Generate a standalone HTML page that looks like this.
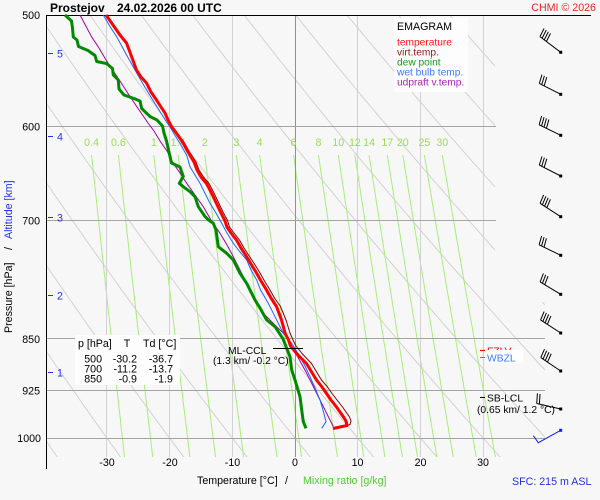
<!DOCTYPE html>
<html><head><meta charset="utf-8">
<style>
html,body{margin:0;padding:0;background:#f7f7f7;overflow:hidden;}
svg{display:block;font-family:"Liberation Sans",Arial,sans-serif;}
</style></head><body>
<svg width="600" height="500" viewBox="0 0 600 500" xmlns="http://www.w3.org/2000/svg">
<rect width="600" height="500" fill="#f7f7f7"/>
<defs><clipPath id="c"><polygon points="46,15 495,15 495,302 545,302 545,457 46,457"/></clipPath></defs>
<g id="grid" clip-path="url(#c)" fill="none"></g>

<!-- isotherms -->
<g stroke="#d2d2d2" stroke-width="1" shape-rendering="crispEdges">
<line x1="106.5" y1="15" x2="106.5" y2="457"/>
<line x1="169.5" y1="15" x2="169.5" y2="457"/>
<line x1="232.5" y1="15" x2="232.5" y2="457"/>
<line x1="357.5" y1="15" x2="357.5" y2="457"/>
<line x1="420.5" y1="15" x2="420.5" y2="457"/>
<line x1="483.5" y1="15" x2="483.5" y2="457"/>
</g>
<line x1="295.5" y1="15" x2="295.5" y2="457" stroke="#909090" stroke-width="1" shape-rendering="crispEdges"/>
<!-- isobars -->
<g stroke="#a4a4a4" stroke-width="1" shape-rendering="crispEdges">
<line x1="46" y1="126.5" x2="496" y2="126.5"/>
<line x1="46" y1="220.5" x2="496" y2="220.5"/>
<line x1="46" y1="338.5" x2="545" y2="338.5"/>
<line x1="46" y1="390.5" x2="545" y2="390.5"/>
<line x1="46" y1="438.5" x2="545" y2="438.5"/>
</g>
<!-- axes -->
<line x1="46" y1="15.5" x2="591" y2="15.5" stroke="#000" stroke-width="1.2" shape-rendering="crispEdges"/>
<line x1="46.5" y1="15" x2="46.5" y2="469" stroke="#000" stroke-width="1" shape-rendering="crispEdges"/>

<!-- mixing ratio labels -->
<g font-size="10.67" fill="#99dd55" text-anchor="middle">
<text x="91.6" y="146">0.4</text>
<text x="118.4" y="146">0.6</text>
<text x="153.8" y="146">1</text>
<text x="178.1" y="146">1.4</text>
<text x="204.8" y="146">2</text>
<text x="236.4" y="146">3</text>
<text x="259.6" y="146">4</text>
<text x="293.5" y="146">6</text>
<text x="318.5" y="146">8</text>
<text x="338.3" y="146">10</text>
<text x="354.9" y="146">12</text>
<text x="369.1" y="146">14</text>
<text x="387.3" y="146">17</text>
<text x="402.8" y="146">20</text>
<text x="424.4" y="146">25</text>
<text x="442.3" y="146">30</text>
</g>

<!-- legend box -->
<rect x="394" y="18" width="74" height="74" fill="#fdfdfd"/>
<text x="397" y="30" font-size="10.67" fill="#000">EMAGRAM</text>
<g font-size="10.2">
<text x="397" y="45.5" fill="#ff1414">temperature</text>
<text x="397" y="55.5" fill="#a01818">virt.temp.</text>
<text x="397" y="65.5" fill="#1a961a">dew point</text>
<text x="397" y="75.5" fill="#3a7cff">wet bulb temp.</text>
<text x="397" y="85.5" fill="#b020c0">udpraft v.temp.</text>
</g>

<!-- profiles -->
<g fill="none" stroke-linejoin="round">
<polyline stroke="#a000a0" stroke-width="1" points="80,15 91.5,36.7 99,48 106,60 112,69 118,78 123.5,86.5 129,95 137,107 148,123 154,131 160,141 167,151 173.3,163.3 180,173 186.7,183.3 195,195 203.3,206.7 211,220 220,233.3 227,245 233.3,256.7 240,270 246.7,283.3 249,290 256,303 263.3,313.3 276.7,326.7 286.7,336.7 296.7,355 306.7,373.3 320,400 333.3,426.7"/>
<polyline stroke="#1a66ff" stroke-width="1" points="103.3,15 110,26.5 116.7,36.7 126,54 135,70 143,84 151.5,98 159,110 166.5,122 170,127 176,137 181.5,146 187,156 190,166.7 200,183.3 210,203.3 216,213 221.7,223.3 227,233 233.3,243.3 240,252 246.7,260 251,270 256.7,280 260.5,290 268.3,303.3 273.3,313.3 283.3,333.3 291.7,343.3 300,356.7 305,366 310,376.7 315,388 320,400 323,410 326,421.7 321.7,428.3"/>
<polyline stroke="#008a00" stroke-width="3" points="65,15 71.5,21 72.5,28 73.3,37 77,40 78.5,46.5 88,50.5 95,55.5 96.7,61.5 106.5,63.5 112.5,68.5 113.3,75 118.3,80 119,89 124,95 134,98.5 140,101 141.7,108.5 150,116.5 157,120 162.5,126 164,133 166.5,141 168.5,150 171.5,163 180,167 183.3,176.5 179.3,183.3 183.3,186.7 190,191.7 195,196.7 198.3,206.7 205,216.5 209,220.4 213.3,223.3 216,230 218.3,246.7 226.7,253.3 233.3,260 240,273.3 246.7,283.3 250,290 255,300 260,308 266.7,320 275,326.7 283,338.8 286.7,348.3 290,356.7 291.7,370 295,380 300,396.7 301.7,410 303.3,421.7 306,428.3"/>
<polyline stroke="#8c0000" stroke-width="1" points="106,15 113,25 120,35 126.7,43 131.2,55 136.8,70 141.3,77 147,83 151.5,92 157.2,100 161.8,107 165.8,113 169,120 172.5,126.5 178,134 184,142 189.5,152 196,162 199,170 203.5,177 209,183.5 213.5,192 219,203.5 223.5,213 227.5,220.4 229.5,227 234,233 239.5,240 244,248 249.5,256.5 254.5,264 260,273 264.5,281 270,290 274.5,298 280.5,306.5 286,320 290,333 293,340 296,346 302,353.5 311.5,363.5 316,371 321.5,380 327.5,387 332,393.5 337,400 342.5,407 346,412 349.5,417 351,421 350,424.5 343,427"/>
<polyline stroke="#ff0000" stroke-width="3" points="106,15 113,25 120,35 126.5,43 131,55 136.5,70 141,77 146.5,83 151,92 156.5,100 161,107 165,113 168,120 171.5,126.5 177,134 182.5,142 188,152 194,162 197,170 201,177 206.5,183.5 211,192 216.5,203.5 221,213 224.8,220.4 227,227 231,233 236.5,240 241,248 246.5,256.5 251,264 256.5,273 261,281 266.5,290 271,298 276.5,306.5 281.5,320 285,333 288.5,340 290.5,346 296.5,353.5 306.5,363.5 311,371 316.5,380 322,387 326.5,393.5 331,400 336.5,407 340,412 343.5,417 346,421 347,425.5 340,427 333,428.5"/>
</g>

<!-- table -->
<rect x="75" y="335" width="105" height="50" fill="#fdfdfd"/>
<g font-size="10.67" fill="#000">
<text x="78" y="347">p [hPa]</text>
<text x="127" y="347" text-anchor="middle">T</text>
<text x="143" y="347">Td [°C]</text>
<g text-anchor="end">
<text x="102" y="362.5">500</text><text x="137" y="362.5">-30.2</text><text x="173" y="362.5">-36.7</text>
<text x="102" y="372.5">700</text><text x="137" y="372.5">-11.2</text><text x="173" y="372.5">-13.7</text>
<text x="102" y="382.5">850</text><text x="137" y="382.5">-0.9</text><text x="173" y="382.5">-1.9</text>
</g>
</g>

<!-- CCL -->
<line x1="273" y1="348.5" x2="303" y2="348.5" stroke="#000" stroke-width="1"/>
<g font-size="10.3" fill="#000">
<text x="228" y="354">ML-CCL</text>
<text x="213" y="364">(1.3 km/ -0.2 °C)</text>
</g>

<!-- FZLV / WBZL -->
<line x1="480" y1="350.5" x2="485" y2="350.5" stroke="#ff0000" stroke-width="1.2"/>
<text x="487" y="354.5" font-size="10.3" fill="#ff0000">FZLV</text>
<rect x="486" y="350" width="37" height="12.5" fill="#ffffff"/>
<line x1="480" y1="357.5" x2="485" y2="357.5" stroke="#3a7cff" stroke-width="1"/>
<text x="487" y="361.5" font-size="10.3" fill="#3a7cff">WBZL</text>

<!-- SB-LCL -->
<line x1="480" y1="397.5" x2="485" y2="397.5" stroke="#000" stroke-width="1"/>
<g font-size="10.3" fill="#000">
<text x="487" y="401.5">SB-LCL</text>
<text x="477" y="413">(0.65 km/ 1.2 °C)</text>
</g>

<!-- wind barbs -->
<g stroke="#000" stroke-width="1" fill="none">
<g transform="translate(560.7,52.3) rotate(217)"><line x1="0" y1="0" x2="26" y2="0"/><line x1="26" y1="0" x2="27.6" y2="9"/><line x1="23.3" y1="0" x2="24.9" y2="9"/><line x1="20.6" y1="0" x2="22.2" y2="9"/><line x1="17.9" y1="0" x2="19.5" y2="9"/></g>
<g transform="translate(560.7,94.3) rotate(207)"><line x1="0" y1="0" x2="24" y2="0"/><line x1="24" y1="0" x2="25.6" y2="9"/><line x1="21.3" y1="0" x2="22.9" y2="9"/><line x1="18.6" y1="0" x2="20.2" y2="9"/></g>
<g transform="translate(560.7,135.3) rotate(206)"><line x1="0" y1="0" x2="24" y2="0"/><line x1="24" y1="0" x2="25.6" y2="9"/><line x1="21.3" y1="0" x2="22.9" y2="9"/><line x1="18.6" y1="0" x2="20.2" y2="9"/><line x1="15.9" y1="0" x2="17.5" y2="9"/></g>
<g transform="translate(560.7,176) rotate(207)"><line x1="0" y1="0" x2="24" y2="0"/><line x1="24" y1="0" x2="25.6" y2="9"/><line x1="21.3" y1="0" x2="22.9" y2="9"/><line x1="18.6" y1="0" x2="20.2" y2="9"/></g>
<g transform="translate(560.7,216.7) rotate(213)"><line x1="0" y1="0" x2="24.6" y2="0"/><line x1="24.6" y1="0" x2="26.2" y2="9"/><line x1="21.9" y1="0" x2="23.5" y2="9"/><line x1="19.2" y1="0" x2="20.8" y2="9"/><line x1="16.5" y1="0" x2="18.1" y2="9"/></g>
<g transform="translate(560.7,255.3) rotate(206)"><line x1="0" y1="0" x2="24" y2="0"/><line x1="24" y1="0" x2="25.6" y2="9"/><line x1="21.3" y1="0" x2="22.9" y2="9"/><line x1="18.6" y1="0" x2="20.2" y2="9"/></g>
<g transform="translate(560.7,294.3) rotate(211)"><line x1="0" y1="0" x2="24" y2="0"/><line x1="24" y1="0" x2="25.6" y2="9"/><line x1="21.3" y1="0" x2="22.9" y2="9"/><line x1="18.6" y1="0" x2="20.2" y2="9"/></g>
<g transform="translate(560.7,333) rotate(213)"><line x1="0" y1="0" x2="24" y2="0"/><line x1="24" y1="0" x2="25.6" y2="9"/><line x1="21.3" y1="0" x2="22.9" y2="9"/><line x1="18.6" y1="0" x2="20.2" y2="9"/><line x1="15.9" y1="0" x2="17.5" y2="9"/></g>
<g transform="translate(560.7,371) rotate(214)"><line x1="0" y1="0" x2="24" y2="0"/><line x1="24" y1="0" x2="25.6" y2="9"/><line x1="21.3" y1="0" x2="22.9" y2="9"/><line x1="18.6" y1="0" x2="20.2" y2="9"/><line x1="15.9" y1="0" x2="17.5" y2="9"/></g>
<g transform="translate(560.7,409) rotate(193)"><line x1="0" y1="0" x2="24.6" y2="0"/><line x1="24.6" y1="0" x2="26.2" y2="10"/><line x1="21.9" y1="0" x2="23.5" y2="10"/></g>
</g>
<g fill="#000">
<rect x="559.2" y="50.8" width="3" height="3"/><rect x="559.2" y="92.8" width="3" height="3"/><rect x="559.2" y="133.8" width="3" height="3"/><rect x="559.2" y="174.5" width="3" height="3"/><rect x="559.2" y="215.2" width="3" height="3"/><rect x="559.2" y="253.8" width="3" height="3"/><rect x="559.2" y="292.8" width="3" height="3"/><rect x="559.2" y="331.5" width="3" height="3"/><rect x="559.2" y="369.5" width="3" height="3"/><rect x="559.2" y="407.5" width="3" height="3"/>
</g>
<polyline points="560.7,430.3 538.3,442.7 533.3,435.7" fill="none" stroke="#1020ee" stroke-width="1"/>
<rect x="559.2" y="428.8" width="3" height="3" fill="#1020ee"/>

<!-- title -->
<text x="50" y="12" font-size="12" font-weight="bold" fill="#000">Prostejov</text>
<text x="117" y="12" font-size="12" font-weight="bold" fill="#000">24.02.2026 00 UTC</text>
<text x="596" y="11" font-size="10.67" fill="#ee2222" text-anchor="end">CHMI © 2026</text>

<!-- pressure labels -->
<g font-size="10.67" fill="#000" text-anchor="end">
<text x="40" y="19">500</text>
<text x="40" y="130.5">600</text>
<text x="40" y="224.5">700</text>
<text x="40" y="343">850</text>
<text x="40" y="394.5">925</text>
<text x="41" y="442">1000</text>
</g>
<!-- altitude -->
<g stroke="#2233ee" stroke-width="1">
<line x1="48" y1="53.5" x2="53" y2="53.5"/><line x1="48" y1="136.5" x2="53" y2="136.5"/><line x1="48" y1="217.5" x2="53" y2="217.5"/><line x1="48" y1="295.5" x2="53" y2="295.5"/><line x1="48" y1="372.5" x2="53" y2="372.5"/>
</g>
<g font-size="10.67" fill="#2233ee">
<text x="57" y="57.5">5</text><text x="57" y="140.5">4</text><text x="57" y="221.5">3</text><text x="57" y="299.5">2</text><text x="57" y="376.5">1</text>
</g>
<text transform="translate(12,333) rotate(-90)" font-size="10.67" fill="#000">Pressure [hPa]</text>
<text transform="translate(12,250) rotate(-90)" font-size="10.67" fill="#000">/</text>
<text transform="translate(12,239) rotate(-90)" font-size="10.67" fill="#2233ee">Altitude [km]</text>

<!-- temperature labels -->
<g font-size="10.67" fill="#000" text-anchor="middle">
<text x="107" y="466">-30</text>
<text x="170" y="466">-20</text>
<text x="232.5" y="466">-10</text>
<text x="295" y="466">0</text>
<text x="357.5" y="466">10</text>
<text x="420.5" y="466">20</text>
<text x="483" y="466">30</text>
</g>
<text x="197" y="484" font-size="10.67" fill="#000">Temperature [°C]</text>
<text x="285" y="484" font-size="10.67" fill="#000">/</text>
<text x="303" y="484" font-size="10.67" fill="#55cc33">Mixing ratio [g/kg]</text>
<text x="512" y="485" font-size="10.67" fill="#2233dd">SFC: 215 m ASL</text>
</svg>
<script>
(function(){
var NS="http://www.w3.org/2000/svg";
var g=document.getElementById('grid');
function X(T){return 295+6.27*T;}
function Y(p){return 15+610.3*Math.log(p/500);}
function pl(pts,stroke){var e=document.createElementNS(NS,'polyline');e.setAttribute('points',pts.join(' '));e.setAttribute('stroke',stroke);e.setAttribute('stroke-width','1');e.setAttribute('fill','none');g.appendChild(e);}
for(var th=223.15;th<=383.2;th+=10){var pts=[];for(var p=490;p<=1045;p+=5){pts.push(X(th*Math.pow(p/1000,0.286)-273.15).toFixed(1)+','+Y(p).toFixed(1));}pl(pts,'#d2d2d2');}
var ws=[0.4,0.6,1,1.4,2,3,4,6,8,10,12,14,17,20,25,30];
for(var i=0;i<ws.length;i++){var w=ws[i];var pts=[];for(var p=629;p<=1040;p+=5){var e=w*p/(622+w),l=Math.log(e/6.112),Td=243.5*l/(17.67-l);pts.push(X(Td).toFixed(1)+','+Y(p).toFixed(1));}pl(pts,'#a6ee7a');}
})();
</script>
</body></html>
